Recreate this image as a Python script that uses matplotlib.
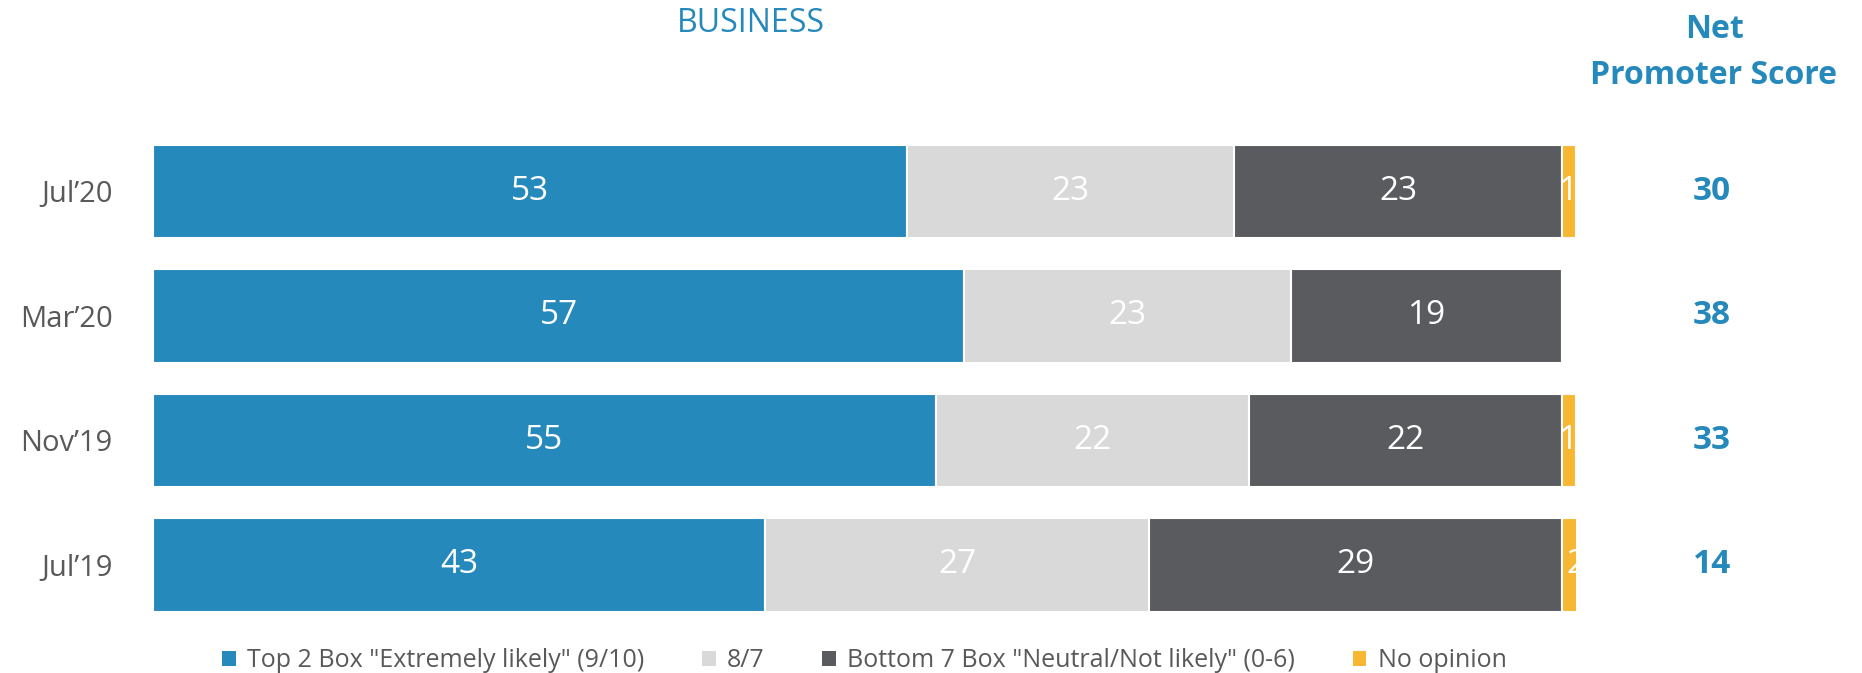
import matplotlib
matplotlib.use('Agg')
import matplotlib.pyplot as plt
import numpy as np

plt.rcParams['font.family'] = ['Open Sans', 'DejaVu Sans']

# data
periods = ["Jul\u201920", "Mar\u201920", "Nov\u201919", "Jul\u201919"]
top2 = [53, 57, 55, 43]
mid87 = [23, 23, 22, 27]
bottom7 = [23, 19, 22, 29]
no_opinion = [1, 0, 1, 2]
nps = [30, 38, 33, 14]

series_names = ['Top 2 Box "Extremely likely" (9/10)', '8/7',
                'Bottom 7 Box "Neutral/Not likely" (0-6)', 'No opinion']
colors = ['#2689BC', '#D9D9D9', '#5A5B5F', '#F7B733']
blue = '#2689BC'
grey_txt = '#595959'

fig = plt.figure(figsize=(18.62, 6.73), dpi=100)
ax = fig.add_axes([0.0822, 0.068, 0.7642, 0.74])

y = np.arange(len(periods))
left = np.zeros(len(periods))
for vals, name, col in zip([top2, mid87, bottom7, no_opinion], series_names, colors):
    vals = np.array(vals, dtype=float)
    bars = ax.barh(y, vals, left=left, height=0.75, color=col, edgecolor='white',
                   linewidth=1.5, label=name)
    for b, v in zip(bars, vals):
        if v > 0:
            ax.text(b.get_x() + b.get_width() / 2, b.get_y() + b.get_height() / 2,
                    '%d' % v, ha='center', va='center', color='white', fontsize=24)
    left += vals

ax.set_xlim(0, 100)
ax.set_ylim(len(periods) - 0.5, -0.5)
ax.set_yticks(y)
ax.set_yticklabels(periods, fontsize=21, color=grey_txt)
ax.tick_params(axis='y', length=0, pad=29)
ax.set_xticks([])
for s in ax.spines.values():
    s.set_visible(False)

# NPS column
for yi, v in zip(y, nps):
    ax.text(1712, ax.transData.transform((0, yi))[1], str(v), transform=None,
            ha='center', va='center', color=blue, fontsize=24, fontweight='bold')

fig.text(751 / 1862, 1 - 24 / 673, 'BUSINESS', ha='center', va='center',
         color=blue, fontsize=23)
fig.text(1714 / 1862, 1 - 30 / 673, 'Net', ha='center', va='center',
         color=blue, fontsize=23, fontweight='bold')
fig.text(1714 / 1862, 1 - 75 / 673, 'Promoter Score', ha='center', va='center',
         color=blue, fontsize=23, fontweight='bold')

leg = ax.legend(loc='center', bbox_to_anchor=(0.5, -0.067), ncol=4,
                frameon=False, fontsize=18, handlelength=0.55, handleheight=0.55,
                handletextpad=0.45, columnspacing=2.3, labelcolor=grey_txt)
for h in leg.legend_handles:
    h.set_edgecolor('none')

fig.savefig('out.png', dpi=100)
